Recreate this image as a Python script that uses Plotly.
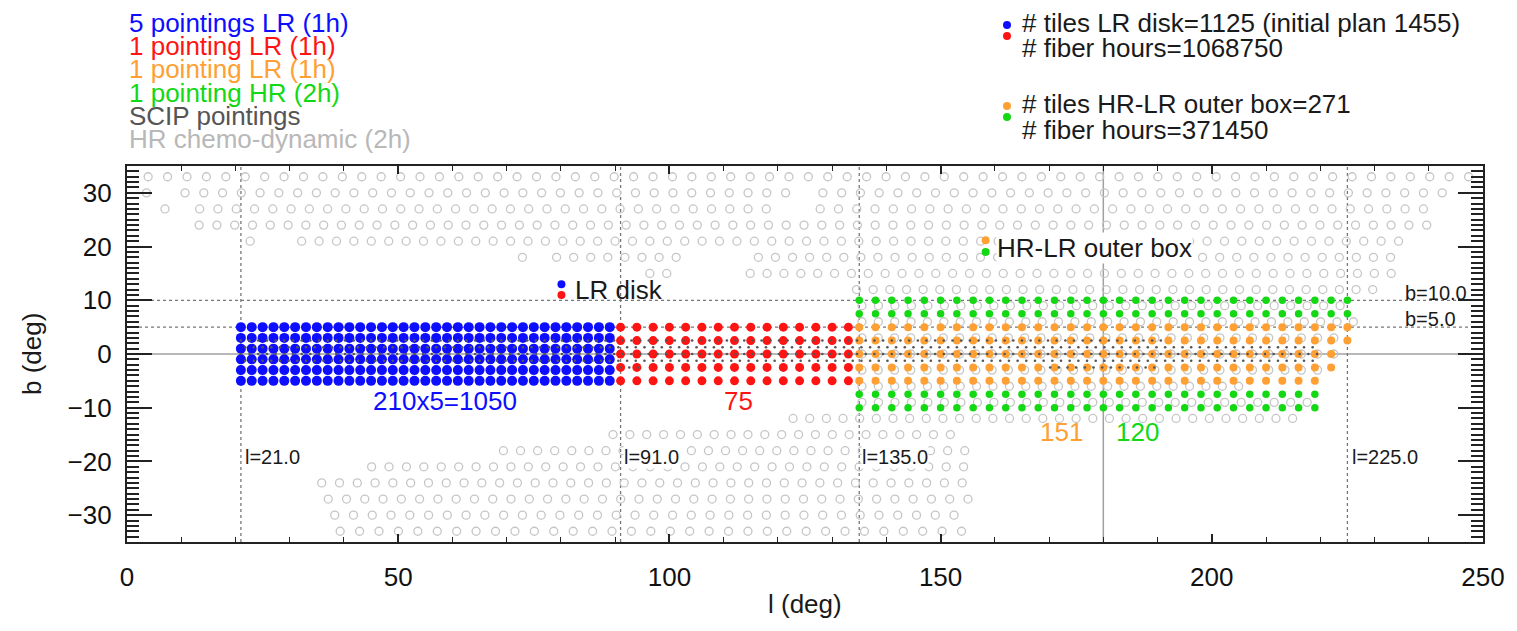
import numpy as np
import plotly.graph_objects as go

# ---------------------------------------------------------------- data
# LR disk, 5 pointings per tile (1h)
BLUE_L = [21, 23, 25, 27, 29, 31, 33, 35, 37, 39, 41, 43, 45, 47, 49, 51, 53, 55,
          57, 59, 61, 63, 65, 67, 69, 71, 73, 75, 77, 79, 81, 83, 85, 87, 89]
BLUE_B = [5, 3, 1, -1, -3, -5]
POINTINGS_PER_BLUE_TILE = 5

# LR disk, single pointing (1h)
RED_L = [91, 94, 97, 100, 103, 106, 109, 112, 115, 118, 121, 124, 127, 130, 133]
RED_B = [5, 2.5, 0, -2.5, -5]

# HR-LR outer box columns, and the last column used in each row
OUTER_L = [135, 138, 141, 144, 147, 150, 153, 156, 159, 162, 165, 168, 171, 174, 177,
           180, 183, 186, 189, 192, 195, 198, 201, 204, 207, 210, 213, 216, 219, 222, 225]
ORANGE_B = [5, 2.5, 0, -2.5, -5]
ORANGE_LAST_L = [225, 225, 222, 222, 219]
GREEN_B = [10, 7.5, -7.5, -10]
GREEN_LAST_L = [225, 225, 219, 219]

FIBERS_PER_TILE = 950
INITIAL_PLAN_TILES = 1455

# HR chemo-dynamic tiling: (b, spacing in l, [(first l, last l), ...])
HR_ROWS = [
    (33, 3.58, [(3.9, 246.7)]),
    (30, 3.46, [(3.6, 3.6), (10.7, 121.3), (128.3, 243.0)]),
    (27, 3.37, [(7.0, 7.0), (13.4, 118.2), (127.8, 239.7)]),
    (24, 3.28, [(13.3, 239.6)]),
    (21, 3.21, [(22.7, 22.7), (32.2, 234.7)]),
    (18, 3.15, [(72.9, 72.9), (79.2, 101.6), (116.4, 234.3)]),
    (15, 3.11, [(96.4, 99.5), (114.9, 233.4)]),
    (12, 3.07, [(134.5, 231.0)]),
    (9, 3.04, [(135.5, 225.0)]),
    (6, 3.02, [(135.5, 225.0)]),
    (3, 3.00, [(135.5, 222.0)]),
    (0, 3.00, [(135.5, 222.0)]),
    (-3, 3.00, [(135.5, 219.0)]),
    (-6, 3.02, [(135.5, 204.0)]),
    (-9, 3.04, [(135.5, 219.0)]),
    (-12, 3.07, [(122.8, 216.3)]),
    (-15, 3.11, [(89.6, 152.3)]),
    (-18, 3.15, [(69.4, 155.4)]),
    (-21, 3.21, [(45.1, 155.4)]),
    (-24, 3.28, [(35.9, 155.4)]),
    (-27, 3.37, [(37.1, 155.4)]),
    (-30, 3.46, [(38.3, 153.9)]),
    (-33, 3.58, [(39.3, 153.9)]),
]

# SCIP pointings: (b, spacing in l, [(first l, last l), ...])
SCIP_ROWS = [
    (2.5, 1.6, [(21.0, 190.0)]),
    (1.25, 1.6, [(21.8, 219.0)]),
    (0.0, 1.6, [(21.0, 219.0)]),
    (-1.25, 1.6, [(21.8, 219.0)]),
    (-2.5, 1.6, [(91.0, 95.0), (170.2, 190.0)]),
]

# boundaries of the survey regions
L_BOUNDS = [21.0, 91.0, 135.0, 225.0]
B_BOUNDS = [10.0, 5.0]
L_ANTICENTRE = 180.0

BLUE = "#0d0dff"
RED = "#ff1414"
ORANGE = "#ffa035"
GREEN = "#14d814"
SCIP_GREY = "#555555"
HR_GREY = "#c6c6c6"
FONT = "Liberation Sans, Arial, Helvetica, sans-serif"


def grid(ls, bs):
    x, y = [], []
    for b in bs:
        for l in ls:
            x.append(l)
            y.append(b)
    return x, y


def rows_last(ls, bs, lasts):
    x, y = [], []
    for b, last in zip(bs, lasts):
        for l in ls:
            if l <= last:
                x.append(l)
                y.append(b)
    return x, y


def tiled(rows):
    x, y = [], []
    for b, step, segs in rows:
        for first, last in segs:
            n = int(round((last - first) / step)) + 1
            for i in range(n):
                x.append(first + i * step)
                y.append(b)
    return x, y


blue_x, blue_y = grid(BLUE_L, BLUE_B)
red_x, red_y = grid(RED_L, RED_B)
orange_x, orange_y = rows_last(OUTER_L, ORANGE_B, ORANGE_LAST_L)
green_x, green_y = rows_last(OUTER_L, GREEN_B, GREEN_LAST_L)
hr_x, hr_y = tiled(HR_ROWS)
scip_x, scip_y = tiled(SCIP_ROWS)

n_blue = len(blue_x)
n_red = len(red_x)
n_orange = len(orange_x)
n_green = len(green_x)
n_lr = n_blue * POINTINGS_PER_BLUE_TILE + n_red
n_outer = n_orange + n_green
hours_lr = n_lr * FIBERS_PER_TILE
hours_outer = (n_orange * 1 + n_green * 2) * FIBERS_PER_TILE

# ---------------------------------------------------------------- figure
W, H = 1517, 631
ML, MR, MT, MB = 127, 34, 166, 89
PW, PH = W - ML - MR, H - MT - MB


def px(xp):
    return (xp - ML) / PW


def py(yp):
    return (H - MB - yp) / PH


fig = go.Figure()

fig.add_trace(go.Scatter(x=hr_x, y=hr_y, mode="markers", hoverinfo="skip",
                         marker=dict(symbol="circle-open", size=8, color=HR_GREY,
                                     line=dict(width=1.3, color=HR_GREY))))
fig.add_trace(go.Scatter(x=green_x, y=green_y, mode="markers",
                         marker=dict(size=7.5, color=GREEN, line=dict(width=0))))
fig.add_trace(go.Scatter(x=orange_x, y=orange_y, mode="markers",
                         marker=dict(size=8, color=ORANGE, line=dict(width=0))))
fig.add_trace(go.Scatter(x=red_x, y=red_y, mode="markers",
                         marker=dict(size=9, color=RED, line=dict(width=0))))
fig.add_trace(go.Scatter(x=blue_x, y=blue_y, mode="markers",
                         marker=dict(size=10, color=BLUE, line=dict(width=0))))
fig.add_trace(go.Scatter(x=scip_x, y=scip_y, mode="markers",
                         marker=dict(size=2.6, color=SCIP_GREY, line=dict(width=0))))

# keys beside the region labels
fig.add_trace(go.Scatter(x=[80.1, 80.1], y=[13.0, 11.0], mode="markers",
                         marker=dict(size=8, color=[BLUE, RED], line=dict(width=0))))
fig.add_trace(go.Scatter(x=[158.3, 158.3], y=[21.2, 19.0], mode="markers",
                         marker=dict(size=8, color=[ORANGE, GREEN], line=dict(width=0))))

shapes = []
for b in B_BOUNDS:
    shapes.append(dict(type="line", xref="x", yref="y", x0=0, x1=250, y0=b, y1=b,
                       line=dict(color="#777777", width=1.3, dash="dot"), layer="below"))
shapes.append(dict(type="line", xref="x", yref="y", x0=0, x1=250, y0=0, y1=0,
                   line=dict(color="#a0a0a0", width=1.5), layer="below"))
for l in L_BOUNDS:
    shapes.append(dict(type="line", xref="x", yref="y", x0=l, x1=l, y0=-35, y1=35,
                       line=dict(color="#777777", width=1.3, dash="dot"), layer="below"))
shapes.append(dict(type="line", xref="x", yref="y", x0=L_ANTICENTRE, x1=L_ANTICENTRE,
                   y0=-35, y1=35, line=dict(color="#a0a0a0", width=1.5), layer="below"))

# dots of the summary block at the top right
for xp, yp, col in [(1007, 25, BLUE), (1007, 36, RED), (1007, 106, ORANGE), (1007, 117, GREEN)]:
    shapes.append(dict(type="circle", xref="paper", yref="paper",
                       xsizemode="pixel", ysizemode="pixel",
                       xanchor=px(xp), yanchor=py(yp), x0=-4, x1=4, y0=-4, y1=4,
                       fillcolor=col, line=dict(width=0)))

ann = []


def text(x, y, s, size, color="#1a1a1a", xanchor="left", ref="data", bg=None, angle=0):
    d = dict(x=x, y=y, text=s, showarrow=False, xanchor=xanchor, yanchor="middle",
             align="left", font=dict(size=size, color=color, family=FONT), textangle=angle)
    if ref == "paper":
        d.update(xref="paper", yref="paper")
    else:
        d.update(xref="x", yref="y")
    if bg:
        d.update(bgcolor=bg, borderpad=0)
    ann.append(d)


def block(lines, size, pitch):
    # several lines of text set closer together than the font size would give:
    # the line pitch follows the base font size, each line carries its own size
    base = pitch / 1.3
    body = "<br>".join(f'<span style="font-size:{size}px;color:{c}">{s}</span>' for s, c in lines)
    return body, base


# legend of pointing types
legend_lines = [
    ("5 pointings LR (1h)", BLUE),
    ("1 pointing LR (1h)", RED),
    ("1 pointing LR (1h)", ORANGE),
    ("1 pointing HR (2h)", GREEN),
    ("SCIP pointings", SCIP_GREY),
    ("HR chemo-dynamic (2h)", "#b8b8b8"),
]
body, base = block(legend_lines, 26, 23.2)
text(px(127), py((22.5 + 138.6) / 2), body, base, ref="paper")

# summary block
DARK = "#1a1a1a"
body, base = block([(f"# tiles LR disk={n_lr} (initial plan {INITIAL_PLAN_TILES})", DARK),
                    (f"# fiber hours={hours_lr}", DARK)], 26, 24.5)
text(px(1020), py((23.5 + 48) / 2), body, base, ref="paper")
body, base = block([(f"# tiles HR-LR outer box={n_outer}", DARK),
                    (f"# fiber hours={hours_outer}", DARK)], 26, 26)
text(px(1020), py((104 + 130) / 2), body, base, ref="paper")

# region labels
text(82.2, 11.9, "LR disk", 26)
text(160.3, 19.8, "HR-LR outer box", 26, bg="white")
text(58.6, -8.8, f"{n_blue}x{POINTINGS_PER_BLUE_TILE}={n_blue * POINTINGS_PER_BLUE_TILE}", 26,
     color=BLUE, xanchor="center")
text(112.8, -8.8, f"{n_red}", 26, color=RED, xanchor="center")
text(172.2, -14.6, f"{n_orange}", 26, color=ORANGE, xanchor="center")
text(186.3, -14.6, f"{n_green}", 26, color=GREEN, xanchor="center")

for l in L_BOUNDS:
    text(l + 0.4, -19.1, f"l={l:.1f}", 20, bg="white" if l in (91.0, 135.0) else None)
text(235.2, 11.3, f"b={B_BOUNDS[0]:.1f}", 20)
text(235.2, 6.6, f"b={B_BOUNDS[1]:.1f}", 20)

# axis titles
text(0.5, py(604), "l (deg)", 26, xanchor="center", ref="paper")
text(px(32), 0.5, "b (deg)", 26, xanchor="center", ref="paper", angle=-90)

axis_common = dict(showline=True, linewidth=2.2, linecolor="#222222", mirror="allticks",
                   showgrid=False, zeroline=False, ticks="inside", tickcolor="#222222",
                   tickfont=dict(size=26, family=FONT, color="#111111"))

fig.update_layout(
    width=W, height=H,
    margin=dict(l=ML, r=MR, t=MT, b=MB),
    plot_bgcolor="white", paper_bgcolor="white",
    showlegend=False,
    shapes=shapes, annotations=ann,
    xaxis=dict(range=[0, 250], tickmode="linear", tick0=0, dtick=50,
               ticklen=8, tickwidth=1.5, ticklabelstandoff=11,
               minor=dict(dtick=10, ticklen=5, tickwidth=1.3, ticks="inside", tickcolor="#222222"),
               **axis_common),
    yaxis=dict(range=[-35, 35], tickmode="linear", tick0=0, dtick=10,
               ticklen=25, tickwidth=2, ticklabelstandoff=8,
               minor=dict(dtick=1, ticklen=12, tickwidth=1.8, ticks="inside", tickcolor="#222222"),
               **axis_common),
)

fig.write_html("out.html")
